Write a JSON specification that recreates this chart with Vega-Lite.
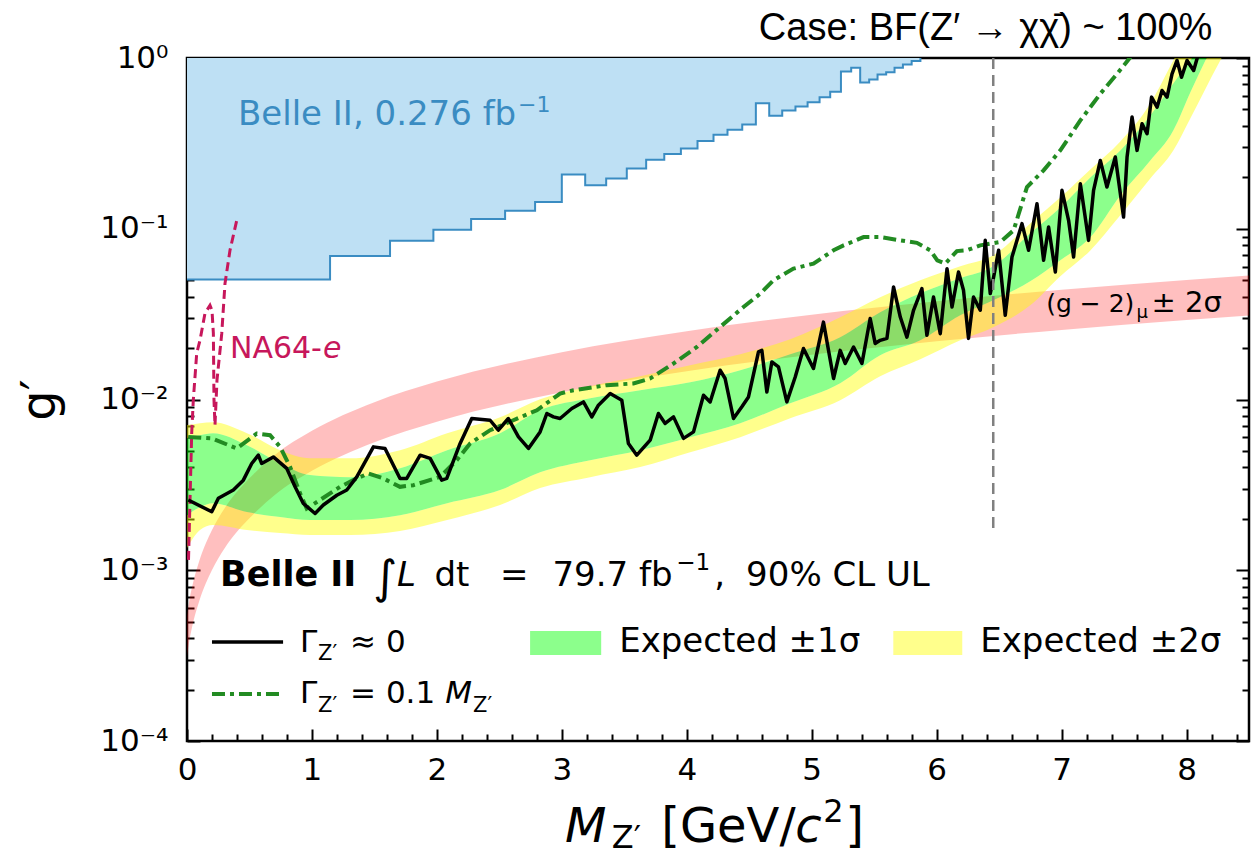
{
  "$schema": "https://vega.github.io/schema/vega-lite/v6.json",
  "width": 1062,
  "height": 683,
  "autosize": {"type": "none"},
  "padding": {"left": 187, "top": 58, "right": 6, "bottom": 115},
  "background": "white",
  "config": {
    "font": "DejaVu Sans",
    "view": {"stroke": "#000000", "strokeWidth": 2.5},
    "axis": {"domain": false, "grid": false, "tickColor": "#000000", "tickWidth": 2, "labelColor": "#000000", "labelFont": "DejaVu Sans", "labelFontSize": 31, "labelFlush": false, "labelOverlap": false, "labelBound": false, "zindex": 1}
  },
  "datasets": {
    "belle276": [
      {"m": 0, "g": 0.0504}, {"m": 1.145, "g": 0.0692}, {"m": 1.625, "g": 0.0852}, {"m": 1.972, "g": 0.0988},
      {"m": 2.274, "g": 0.114}, {"m": 2.546, "g": 0.1276}, {"m": 2.786, "g": 0.1433}, {"m": 3.0, "g": 0.208},
      {"m": 3.187, "g": 0.1795}, {"m": 3.355, "g": 0.197}, {"m": 3.52, "g": 0.2256}, {"m": 3.675, "g": 0.2537},
      {"m": 3.82, "g": 0.2736}, {"m": 3.953, "g": 0.2953}, {"m": 4.086, "g": 0.326}, {"m": 4.214, "g": 0.355},
      {"m": 4.326, "g": 0.38}, {"m": 4.444, "g": 0.408}, {"m": 4.553, "g": 0.544}, {"m": 4.66, "g": 0.459},
      {"m": 4.764, "g": 0.493}, {"m": 4.87, "g": 0.52}, {"m": 4.967, "g": 0.551}, {"m": 5.063, "g": 0.59},
      {"m": 5.148, "g": 0.634}, {"m": 5.234, "g": 0.834}, {"m": 5.316, "g": 0.877}, {"m": 5.388, "g": 0.719},
      {"m": 5.46, "g": 0.748}, {"m": 5.527, "g": 0.8}, {"m": 5.596, "g": 0.826}, {"m": 5.663, "g": 0.877},
      {"m": 5.73, "g": 0.916}, {"m": 5.8, "g": 0.96}, {"m": 5.87, "g": 1.0}
    ],
    "bands": [
      {"m": 0.0, "y2hi": 0.00708, "y1hi": 0.00594, "y1lo": 0.0021, "y2lo": 0.00135},
      {"m": 0.104, "y2hi": 0.00727, "y1hi": 0.00618, "y1lo": 0.00234, "y2lo": 0.00172},
      {"m": 0.208, "y2hi": 0.00736, "y1hi": 0.00635, "y1lo": 0.00247, "y2lo": 0.00184},
      {"m": 0.48, "y2hi": 0.00635, "y1hi": 0.0054, "y1lo": 0.00219, "y2lo": 0.00172},
      {"m": 0.745, "y2hi": 0.00505, "y1hi": 0.00424, "y1lo": 0.00205, "y2lo": 0.00165},
      {"m": 0.985, "y2hi": 0.00453, "y1hi": 0.00361, "y1lo": 0.00197, "y2lo": 0.00161},
      {"m": 1.305, "y2hi": 0.00453, "y1hi": 0.00351, "y1lo": 0.00197, "y2lo": 0.00161},
      {"m": 1.705, "y2hi": 0.00505, "y1hi": 0.00396, "y1lo": 0.0021, "y2lo": 0.0017},
      {"m": 2.082, "y2hi": 0.00635, "y1hi": 0.00505, "y1lo": 0.00247, "y2lo": 0.00197},
      {"m": 2.506, "y2hi": 0.00788, "y1hi": 0.00635, "y1lo": 0.00295, "y2lo": 0.00241},
      {"m": 2.826, "y2hi": 0.01004, "y1hi": 0.00866, "y1lo": 0.00375, "y2lo": 0.00303},
      {"m": 3.227, "y2hi": 0.01196, "y1hi": 0.01018, "y1lo": 0.00441, "y2lo": 0.00351},
      {"m": 3.627, "y2hi": 0.01368, "y1hi": 0.01133, "y1lo": 0.00505, "y2lo": 0.00402},
      {"m": 4.027, "y2hi": 0.01588, "y1hi": 0.01262, "y1lo": 0.00602, "y2lo": 0.00491},
      {"m": 4.428, "y2hi": 0.01841, "y1hi": 0.01484, "y1lo": 0.00727, "y2lo": 0.00602},
      {"m": 4.828, "y2hi": 0.02254, "y1hi": 0.01841, "y1lo": 0.00951, "y2lo": 0.00777},
      {"m": 5.228, "y2hi": 0.0303, "y1hi": 0.02314, "y1lo": 0.01246, "y2lo": 0.00991},
      {"m": 5.548, "y2hi": 0.0397, "y1hi": 0.0324, "y1lo": 0.01816, "y2lo": 0.01368},
      {"m": 5.869, "y2hi": 0.0499, "y1hi": 0.0419, "y1lo": 0.0222, "y2lo": 0.0172},
      {"m": 6.189, "y2hi": 0.0603, "y1hi": 0.0513, "y1lo": 0.0311, "y2lo": 0.0222},
      {"m": 6.453, "y2hi": 0.0699, "y1hi": 0.0603, "y1lo": 0.0381, "y2lo": 0.0265},
      {"m": 6.749, "y2hi": 0.1075, "y1hi": 0.094, "y1lo": 0.0492, "y2lo": 0.0356},
      {"m": 6.99, "y2hi": 0.1527, "y1hi": 0.1334, "y1lo": 0.0653, "y2lo": 0.0527},
      {"m": 7.23, "y2hi": 0.2227, "y1hi": 0.1999, "y1lo": 0.0891, "y2lo": 0.0747},
      {"m": 7.47, "y2hi": 0.3246, "y1hi": 0.2875, "y1lo": 0.1568, "y2lo": 0.1198},
      {"m": 7.71, "y2hi": 0.5417, "y1hi": 0.4608, "y1lo": 0.2513, "y2lo": 0.1972},
      {"m": 7.894, "y2hi": 0.967, "y1hi": 0.709, "y1lo": 0.3765, "y2lo": 0.2875},
      {"m": 8.03, "y2hi": 1.468, "y1hi": 0.967, "y1lo": 0.6283, "y2lo": 0.4426},
      {"m": 8.27, "y2hi": 3.04, "y1hi": 1.57, "y1lo": 1.468, "y2lo": 0.967},
      {"m": 8.51, "y2hi": 6.38, "y1hi": 2.69, "y1lo": 3.43, "y2lo": 1.948}
    ]
  },
  "resolve": {"axis": {"x": "independent", "y": "independent"}},
  "layer": [
    {
      "data": {"name": "belle276"},
      "mark": {"type": "area", "interpolate": "step-after", "color": "#bee0f4", "clip": true},
      "encoding": {
        "x": {"field": "m", "type": "quantitative", "scale": {"domain": [0, 8.5], "nice": false, "zero": false},
          "axis": {"orient": "bottom", "values": [0,0.2,0.4,0.6,0.8,1,1.2,1.4,1.6,1.8,2,2.2,2.4,2.6,2.8,3,3.2,3.4,3.6,3.8,4,4.2,4.4,4.6,4.8,5,5.2,5.4,5.6,5.8,6,6.2,6.4,6.6,6.8,7,7.2,7.4,7.6,7.8,8,8.2,8.4],
            "labelExpr": "datum.value === round(datum.value) ? '' + datum.value : ''",
            "tickSize": {"condition": {"test": "datum.value === round(datum.value)", "value": -12}, "value": -7},
            "labelPadding": 26, "title": null}},
        "y": {"field": "g", "type": "quantitative", "scale": {"type": "log", "domain": [0.0001, 1], "nice": false},
          "axis": {"orient": "left", "values": [0.0001,0.0002,0.0003,0.0004,0.0005,0.0006,0.0007,0.0008,0.0009,0.001,0.002,0.003,0.004,0.005,0.006,0.007,0.008,0.009,0.01,0.02,0.03,0.04,0.05,0.06,0.07,0.08,0.09,0.1,0.2,0.3,0.4,0.5,0.6,0.7,0.8,0.9,1],
            "labelExpr": "datum.value === 1 ? '10⁰' : datum.value === 0.1 ? '10⁻¹' : datum.value === 0.01 ? '10⁻²' : datum.value === 0.001 ? '10⁻³' : datum.value === 0.0001 ? '10⁻⁴' : ''",
            "tickSize": {"condition": {"test": "datum.value === 1 || datum.value === 0.1 || datum.value === 0.01 || datum.value === 0.001 || datum.value === 0.0001", "value": -13}, "value": -7},
            "labelPadding": 32, "title": "g′", "titleFontSize": 48, "titleFont": "DejaVu Sans", "titleFontWeight": "normal", "titleColor": "#000000", "titlePadding": 35}},
        "y2": {"datum": 1}
      }
    },
    {
      "data": {"name": "belle276"},
      "mark": {"type": "line", "interpolate": "step-after", "color": "#3a8cc2", "strokeWidth": 2, "clip": true},
      "encoding": {
        "x": {"field": "m", "type": "quantitative", "axis": null},
        "y": {"field": "g", "type": "quantitative", "axis": null}
      }
    },
    {
      "data": {"values": [
        {"m": 0, "lo": 0.000315, "hi": 0.00054}, {"m": 0.02, "lo": 0.000392, "hi": 0.000673},
        {"m": 0.05, "lo": 0.000498, "hi": 0.000854}, {"m": 0.1, "lo": 0.000667, "hi": 0.001145},
        {"m": 0.2, "lo": 0.001003, "hi": 0.001721}, {"m": 0.3, "lo": 0.001341, "hi": 0.002302},
        {"m": 0.4, "lo": 0.00168, "hi": 0.00288}, {"m": 0.53, "lo": 0.00212, "hi": 0.00364},
        {"m": 0.7, "lo": 0.00275, "hi": 0.00472}, {"m": 1.0, "lo": 0.00382, "hi": 0.00656},
        {"m": 1.5, "lo": 0.00562, "hi": 0.00964}, {"m": 2.0, "lo": 0.00742, "hi": 0.01273},
        {"m": 3.0, "lo": 0.01104, "hi": 0.01894}, {"m": 4.0, "lo": 0.01465, "hi": 0.02514},
        {"m": 5.0, "lo": 0.01829, "hi": 0.03139}, {"m": 6.0, "lo": 0.02193, "hi": 0.03764},
        {"m": 7.0, "lo": 0.02556, "hi": 0.04387}, {"m": 8.0, "lo": 0.02921, "hi": 0.05012},
        {"m": 8.5, "lo": 0.03102, "hi": 0.05324}
      ]},
      "mark": {"type": "area", "interpolate": "monotone", "color": "#ff0000", "opacity": 0.25, "clip": true},
      "encoding": {
        "x": {"field": "m", "type": "quantitative", "axis": null},
        "y": {"field": "lo", "type": "quantitative",
          "axis": {"orient": "right", "labels": false, "title": null, "values": [0.0001,0.0002,0.0003,0.0004,0.0005,0.0006,0.0007,0.0008,0.0009,0.001,0.002,0.003,0.004,0.005,0.006,0.007,0.008,0.009,0.01,0.02,0.03,0.04,0.05,0.06,0.07,0.08,0.09,0.1,0.2,0.3,0.4,0.5,0.6,0.7,0.8,0.9,1],
            "tickSize": {"condition": {"test": "datum.value === 1 || datum.value === 0.1 || datum.value === 0.01 || datum.value === 0.001 || datum.value === 0.0001", "value": -13}, "value": -7}}},
        "y2": {"field": "hi"}
      }
    },
    {
      "data": {"name": "bands"},
      "mark": {"type": "area", "interpolate": "monotone", "color": "#ffff00", "opacity": 0.45, "clip": true},
      "encoding": {
        "x": {"field": "m", "type": "quantitative", "axis": null},
        "y": {"field": "y1hi", "type": "quantitative", "axis": null},
        "y2": {"field": "y2hi"}
      }
    },
    {
      "data": {"name": "bands"},
      "mark": {"type": "area", "interpolate": "monotone", "color": "#ffff00", "opacity": 0.45, "clip": true},
      "encoding": {
        "x": {"field": "m", "type": "quantitative", "axis": null},
        "y": {"field": "y2lo", "type": "quantitative", "axis": null},
        "y2": {"field": "y1lo"}
      }
    },
    {
      "data": {"name": "bands"},
      "mark": {"type": "area", "interpolate": "monotone", "color": "#00ff00", "opacity": 0.45, "clip": true},
      "encoding": {
        "x": {"field": "m", "type": "quantitative", "axis": null},
        "y": {"field": "y1lo", "type": "quantitative", "axis": null},
        "y2": {"field": "y1hi"}
      }
    },
    {
      "data": {"values": [
        {"i": 1, "m": 0.012, "g": 0.00115}, {"i": 2, "m": 0.024, "g": 0.00258}, {"i": 3, "m": 0.0376, "g": 0.00635},
        {"i": 4, "m": 0.0504, "g": 0.00991}, {"i": 5, "m": 0.0777, "g": 0.01866}, {"i": 6, "m": 0.104, "g": 0.0222},
        {"i": 7, "m": 0.144, "g": 0.032}, {"i": 8, "m": 0.184, "g": 0.0356}, {"i": 9, "m": 0.2, "g": 0.0333},
        {"i": 10, "m": 0.211, "g": 0.0244}, {"i": 11, "m": 0.216, "g": 0.00991}, {"i": 12, "m": 0.224, "g": 0.00707},
        {"i": 13, "m": 0.24, "g": 0.01297}, {"i": 14, "m": 0.278, "g": 0.0243}, {"i": 15, "m": 0.304, "g": 0.0477},
        {"i": 16, "m": 0.344, "g": 0.0747}, {"i": 17, "m": 0.398, "g": 0.1119}
      ]},
      "mark": {"type": "line", "color": "#c7175b", "strokeWidth": 3, "strokeDash": [9, 5], "clip": true},
      "encoding": {
        "x": {"field": "m", "type": "quantitative", "axis": null},
        "y": {"field": "g", "type": "quantitative", "axis": null},
        "order": {"field": "i", "type": "quantitative"}
      }
    },
    {
      "data": {"values": [
        {"m": 0.01, "g": 0.00604}, {"m": 0.198, "g": 0.00592}, {"m": 0.398, "g": 0.00517}, {"m": 0.558, "g": 0.00632},
        {"m": 0.665, "g": 0.00618}, {"m": 0.745, "g": 0.00528}, {"m": 0.825, "g": 0.00403}, {"m": 0.905, "g": 0.00282},
        {"m": 0.958, "g": 0.0023}, {"m": 1.065, "g": 0.00258}, {"m": 1.225, "g": 0.00308}, {"m": 1.331, "g": 0.00337},
        {"m": 1.452, "g": 0.00369}, {"m": 1.572, "g": 0.00345}, {"m": 1.705, "g": 0.00308}, {"m": 1.812, "g": 0.00315},
        {"m": 2.026, "g": 0.00352}, {"m": 2.159, "g": 0.00441}, {"m": 2.266, "g": 0.00553}, {"m": 2.426, "g": 0.00661},
        {"m": 2.612, "g": 0.00756}, {"m": 2.8, "g": 0.00865}, {"m": 2.986, "g": 0.01084}, {"m": 3.093, "g": 0.01133},
        {"m": 3.36, "g": 0.01213}, {"m": 3.573, "g": 0.01241}, {"m": 3.707, "g": 0.01327}, {"m": 3.894, "g": 0.01625},
        {"m": 4.081, "g": 0.0203}, {"m": 4.267, "g": 0.0266}, {"m": 4.454, "g": 0.0348}, {"m": 4.588, "g": 0.0417},
        {"m": 4.694, "g": 0.0499}, {"m": 4.854, "g": 0.0584}, {"m": 5.014, "g": 0.0625}, {"m": 5.175, "g": 0.0748},
        {"m": 5.255, "g": 0.0799}, {"m": 5.415, "g": 0.0894}, {"m": 5.548, "g": 0.0894}, {"m": 5.709, "g": 0.0855},
        {"m": 5.842, "g": 0.0827}, {"m": 5.949, "g": 0.0748}, {"m": 6.005, "g": 0.0653}, {"m": 6.069, "g": 0.0625},
        {"m": 6.162, "g": 0.074}, {"m": 6.242, "g": 0.0748}, {"m": 6.349, "g": 0.0799}, {"m": 6.509, "g": 0.0836},
        {"m": 6.616, "g": 0.0979}, {"m": 6.723, "g": 0.1754}, {"m": 6.856, "g": 0.2198}, {"m": 6.99, "g": 0.2877},
        {"m": 7.15, "g": 0.431}, {"m": 7.31, "g": 0.617}, {"m": 7.444, "g": 0.808}, {"m": 7.55, "g": 1.01},
        {"m": 7.71, "g": 1.45}
      ]},
      "mark": {"type": "line", "color": "#228b22", "strokeWidth": 4, "strokeDash": [13, 5, 4, 5], "clip": true},
      "encoding": {
        "x": {"field": "m", "type": "quantitative", "axis": null},
        "y": {"field": "g", "type": "quantitative", "axis": null}
      }
    },
    {
      "data": {"values": [
        {"m": 0.01, "g": 0.00258}, {"m": 0.198, "g": 0.0022}, {"m": 0.251, "g": 0.00264}, {"m": 0.371, "g": 0.00295},
        {"m": 0.451, "g": 0.00337}, {"m": 0.518, "g": 0.00422}, {"m": 0.571, "g": 0.00472}, {"m": 0.598, "g": 0.00422},
        {"m": 0.691, "g": 0.00461}, {"m": 0.798, "g": 0.00395}, {"m": 0.865, "g": 0.00308}, {"m": 0.931, "g": 0.00246},
        {"m": 1.025, "g": 0.00215}, {"m": 1.091, "g": 0.00241}, {"m": 1.199, "g": 0.00275}, {"m": 1.279, "g": 0.00295},
        {"m": 1.359, "g": 0.00352}, {"m": 1.492, "g": 0.00528}, {"m": 1.585, "g": 0.00517}, {"m": 1.705, "g": 0.00345},
        {"m": 1.759, "g": 0.00345}, {"m": 1.866, "g": 0.00472}, {"m": 1.946, "g": 0.00452}, {"m": 2.039, "g": 0.00337},
        {"m": 2.079, "g": 0.00345}, {"m": 2.186, "g": 0.00553}, {"m": 2.279, "g": 0.00774}, {"m": 2.426, "g": 0.00756},
        {"m": 2.492, "g": 0.00661}, {"m": 2.572, "g": 0.00774}, {"m": 2.653, "g": 0.00604}, {"m": 2.733, "g": 0.00517},
        {"m": 2.826, "g": 0.00646}, {"m": 2.88, "g": 0.00828}, {"m": 2.933, "g": 0.00791}, {"m": 2.986, "g": 0.00774},
        {"m": 3.08, "g": 0.00886}, {"m": 3.173, "g": 0.00968}, {"m": 3.24, "g": 0.00791}, {"m": 3.293, "g": 0.00926},
        {"m": 3.387, "g": 0.01084}, {"m": 3.48, "g": 0.00991}, {"m": 3.533, "g": 0.00553}, {"m": 3.6, "g": 0.00472},
        {"m": 3.707, "g": 0.00578}, {"m": 3.773, "g": 0.00828}, {"m": 3.827, "g": 0.00724}, {"m": 3.894, "g": 0.00791},
        {"m": 3.974, "g": 0.00592}, {"m": 4.054, "g": 0.00646}, {"m": 4.134, "g": 0.0106}, {"m": 4.187, "g": 0.00968},
        {"m": 4.267, "g": 0.01483}, {"m": 4.307, "g": 0.01327}, {"m": 4.374, "g": 0.00774}, {"m": 4.441, "g": 0.00906},
        {"m": 4.494, "g": 0.01035}, {"m": 4.574, "g": 0.019}, {"m": 4.601, "g": 0.0194}, {"m": 4.641, "g": 0.01107},
        {"m": 4.681, "g": 0.0166}, {"m": 4.734, "g": 0.01552}, {"m": 4.801, "g": 0.00968}, {"m": 4.868, "g": 0.01355},
        {"m": 4.934, "g": 0.0199}, {"m": 5.014, "g": 0.01518}, {"m": 5.094, "g": 0.0284}, {"m": 5.175, "g": 0.01327},
        {"m": 5.228, "g": 0.0194}, {"m": 5.268, "g": 0.01625}, {"m": 5.335, "g": 0.0203}, {"m": 5.402, "g": 0.01625},
        {"m": 5.468, "g": 0.0298}, {"m": 5.508, "g": 0.0213}, {"m": 5.548, "g": 0.0222}, {"m": 5.602, "g": 0.0228},
        {"m": 5.655, "g": 0.0456}, {"m": 5.709, "g": 0.0304}, {"m": 5.762, "g": 0.0232}, {"m": 5.815, "g": 0.0333},
        {"m": 5.882, "g": 0.0446}, {"m": 5.922, "g": 0.0238}, {"m": 5.975, "g": 0.0398}, {"m": 6.029, "g": 0.0243},
        {"m": 6.083, "g": 0.0584}, {"m": 6.123, "g": 0.0348}, {"m": 6.175, "g": 0.0558}, {"m": 6.215, "g": 0.0436},
        {"m": 6.255, "g": 0.0228}, {"m": 6.295, "g": 0.0398}, {"m": 6.349, "g": 0.0333}, {"m": 6.389, "g": 0.0855},
        {"m": 6.429, "g": 0.0417}, {"m": 6.456, "g": 0.0521}, {"m": 6.496, "g": 0.0748}, {"m": 6.549, "g": 0.0311},
        {"m": 6.603, "g": 0.0683}, {"m": 6.683, "g": 0.1071}, {"m": 6.736, "g": 0.0748}, {"m": 6.803, "g": 0.1402},
        {"m": 6.856, "g": 0.0653}, {"m": 6.896, "g": 0.1023}, {"m": 6.95, "g": 0.0558}, {"m": 7.003, "g": 0.1678},
        {"m": 7.056, "g": 0.112}, {"m": 7.096, "g": 0.0683}, {"m": 7.15, "g": 0.1836}, {"m": 7.216, "g": 0.0855},
        {"m": 7.256, "g": 0.1678}, {"m": 7.31, "g": 0.2512}, {"m": 7.363, "g": 0.1754}, {"m": 7.43, "g": 0.263},
        {"m": 7.496, "g": 0.1171}, {"m": 7.524, "g": 0.263}, {"m": 7.564, "g": 0.451}, {"m": 7.604, "g": 0.2877},
        {"m": 7.644, "g": 0.412}, {"m": 7.684, "g": 0.36}, {"m": 7.72, "g": 0.59}, {"m": 7.764, "g": 0.515},
        {"m": 7.804, "g": 0.645}, {"m": 7.844, "g": 0.59}, {"m": 7.884, "g": 0.808}, {"m": 7.924, "g": 0.967},
        {"m": 7.96, "g": 0.772}, {"m": 8.004, "g": 0.967}, {"m": 8.057, "g": 0.845}, {"m": 8.084, "g": 0.99},
        {"m": 8.11, "g": 1.18}
      ]},
      "mark": {"type": "line", "color": "#000000", "strokeWidth": 3.5, "strokeJoin": "round", "clip": true},
      "encoding": {
        "x": {"field": "m", "type": "quantitative", "axis": null},
        "y": {"field": "g", "type": "quantitative", "axis": null}
      }
    },
    {
      "data": {"values": [{"m": 6.453, "lo": 0.00177, "hi": 1}]},
      "mark": {"type": "rule", "color": "#808080", "strokeWidth": 2.5, "strokeDash": [11, 6]},
      "encoding": {
        "x": {"field": "m", "type": "quantitative", "axis": null},
        "y": {"field": "lo", "type": "quantitative", "axis": null},
        "y2": {"field": "hi"}
      }
    },
    {
      "data": {"values": [{"m": 0.2, "m2": 0.769, "g": 0.00038}]},
      "mark": {"type": "rule", "color": "#000000", "strokeWidth": 3.5},
      "encoding": {
        "x": {"field": "m", "type": "quantitative", "axis": null},
        "x2": {"field": "m2"},
        "y": {"field": "g", "type": "quantitative", "axis": null}
      }
    },
    {
      "data": {"values": [{"m": 0.2, "m2": 0.769, "g": 0.0001886}]},
      "mark": {"type": "rule", "color": "#228b22", "strokeWidth": 4, "strokeDash": [13, 5, 4, 5]},
      "encoding": {
        "x": {"field": "m", "type": "quantitative", "axis": null},
        "x2": {"field": "m2"},
        "y": {"field": "g", "type": "quantitative", "axis": null}
      }
    },
    {
      "data": {"values": [{"m": 2.746, "m2": 3.315, "lo": 0.000319, "hi": 0.000441}]},
      "mark": {"type": "rect", "color": "#00ff00", "opacity": 0.45},
      "encoding": {
        "x": {"field": "m", "type": "quantitative", "axis": null},
        "x2": {"field": "m2"},
        "y": {"field": "lo", "type": "quantitative", "axis": null},
        "y2": {"field": "hi"}
      }
    },
    {
      "data": {"values": [{"m": 5.653, "m2": 6.205, "lo": 0.000319, "hi": 0.000441}]},
      "mark": {"type": "rect", "color": "#ffff00", "opacity": 0.45},
      "encoding": {
        "x": {"field": "m", "type": "quantitative", "axis": null},
        "x2": {"field": "m2"},
        "y": {"field": "lo", "type": "quantitative", "axis": null},
        "y2": {"field": "hi"}
      }
    },
    {
      "data": {"values": [{"m": 0.408, "g": 0.4027, "t": "Belle II, 0.276 fb"}]},
      "mark": {"type": "text", "color": "#3a8cc2", "fontSize": 34, "font": "DejaVu Sans", "align": "left", "baseline": "alphabetic"},
      "encoding": {
        "x": {"field": "m", "type": "quantitative", "axis": null},
        "y": {"field": "g", "type": "quantitative", "axis": null},
        "text": {"field": "t"}
      }
    },
    {
      "data": {"values": [{"m": 2.65, "g": 0.48, "t": "−1"}]},
      "mark": {"type": "text", "color": "#3a8cc2", "fontSize": 22, "font": "DejaVu Sans", "align": "left", "baseline": "alphabetic"},
      "encoding": {
        "x": {"field": "m", "type": "quantitative", "axis": null},
        "y": {"field": "g", "type": "quantitative", "axis": null},
        "text": {"field": "t"}
      }
    },
    {
      "data": {"values": [{"m": 0.344, "g": 0.01745, "t": "NA64-"}]},
      "mark": {"type": "text", "color": "#c7175b", "fontSize": 30, "font": "DejaVu Sans", "align": "left", "baseline": "alphabetic"},
      "encoding": {
        "x": {"field": "m", "type": "quantitative", "axis": null},
        "y": {"field": "g", "type": "quantitative", "axis": null},
        "text": {"field": "t"}
      }
    },
    {
      "data": {"values": [{"m": 1.089, "g": 0.01745, "t": "e"}]},
      "mark": {"type": "text", "color": "#c7175b", "fontSize": 30, "font": "DejaVu Sans", "fontStyle": "italic", "align": "left", "baseline": "alphabetic"},
      "encoding": {
        "x": {"field": "m", "type": "quantitative", "axis": null},
        "y": {"field": "g", "type": "quantitative", "axis": null},
        "text": {"field": "t"}
      }
    },
    {
      "data": {"values": [{"m": 6.877, "g": 0.03242, "t": "(g − 2)"}]},
      "mark": {"type": "text", "color": "#000000", "fontSize": 25, "font": "DejaVu Sans", "align": "left", "baseline": "alphabetic"},
      "encoding": {
        "x": {"field": "m", "type": "quantitative", "axis": null},
        "y": {"field": "g", "type": "quantitative", "axis": null},
        "text": {"field": "t"}
      }
    },
    {
      "data": {"values": [{"m": 7.72, "g": 0.03242, "t": "± 2σ"}]},
      "mark": {"type": "text", "color": "#000000", "fontSize": 29, "font": "DejaVu Sans", "align": "left", "baseline": "alphabetic"},
      "encoding": {
        "x": {"field": "m", "type": "quantitative", "axis": null},
        "y": {"field": "g", "type": "quantitative", "axis": null},
        "text": {"field": "t"}
      }
    },
    {
      "data": {"values": [{"m": 7.6, "g": 0.0299, "t": "μ"}]},
      "mark": {"type": "text", "color": "#000000", "fontSize": 18, "font": "DejaVu Sans", "align": "left", "baseline": "alphabetic"},
      "encoding": {
        "x": {"field": "m", "type": "quantitative", "axis": null},
        "y": {"field": "g", "type": "quantitative", "axis": null},
        "text": {"field": "t"}
      }
    },
    {
      "data": {"values": [{"m": 0.264, "g": 0.000808, "t": "Belle II"}]},
      "mark": {"type": "text", "color": "#000000", "fontSize": 35, "font": "DejaVu Sans", "fontWeight": "bold", "align": "left", "baseline": "alphabetic"},
      "encoding": {
        "x": {"field": "m", "type": "quantitative", "axis": null},
        "y": {"field": "g", "type": "quantitative", "axis": null},
        "text": {"field": "t"}
      }
    },
    {
      "data": {"values": [{"m": 1.49, "g": 0.00074, "t": "∫"}]},
      "mark": {"type": "text", "color": "#000000", "fontSize": 46, "font": "DejaVu Sans", "align": "left", "baseline": "alphabetic"},
      "encoding": {
        "x": {"field": "m", "type": "quantitative", "axis": null},
        "y": {"field": "g", "type": "quantitative", "axis": null},
        "text": {"field": "t"}
      }
    },
    {
      "data": {"values": [{"m": 1.68, "g": 0.000808, "t": "L"}]},
      "mark": {"type": "text", "color": "#000000", "fontSize": 34, "font": "DejaVu Sans", "fontStyle": "italic", "align": "left", "baseline": "alphabetic"},
      "encoding": {
        "x": {"field": "m", "type": "quantitative", "axis": null},
        "y": {"field": "g", "type": "quantitative", "axis": null},
        "text": {"field": "t"}
      }
    },
    {
      "data": {"values": [
        {"m": 1.98, "g": 0.000808, "t": "dt"},
        {"m": 2.506, "g": 0.000808, "t": "="},
        {"m": 2.925, "g": 0.000808, "t": "79.7 fb"},
        {"m": 4.22, "g": 0.000808, "t": ","},
        {"m": 4.475, "g": 0.000808, "t": "90% CL UL"},
        {"m": 3.459, "g": 0.000332, "t": "Expected ±1σ"},
        {"m": 6.349, "g": 0.000332, "t": "Expected ±2σ"}
      ]},
      "mark": {"type": "text", "color": "#000000", "fontSize": 34, "font": "DejaVu Sans", "align": "left", "baseline": "alphabetic"},
      "encoding": {
        "x": {"field": "m", "type": "quantitative", "axis": null},
        "y": {"field": "g", "type": "quantitative", "axis": null},
        "text": {"field": "t"}
      }
    },
    {
      "data": {"values": [{"m": 3.915, "g": 0.00101, "t": "−1"}]},
      "mark": {"type": "text", "color": "#000000", "fontSize": 23, "font": "DejaVu Sans", "align": "left", "baseline": "alphabetic"},
      "encoding": {
        "x": {"field": "m", "type": "quantitative", "axis": null},
        "y": {"field": "g", "type": "quantitative", "axis": null},
        "text": {"field": "t"}
      }
    },
    {
      "data": {"values": [
        {"m": 0.905, "g": 0.000332, "t": "Γ"},
        {"m": 1.305, "g": 0.000332, "t": "≈ 0"},
        {"m": 0.905, "g": 0.0001671, "t": "Γ"},
        {"m": 1.305, "g": 0.0001671, "t": "= 0.1"}
      ]},
      "mark": {"type": "text", "color": "#000000", "fontSize": 31, "font": "DejaVu Sans", "align": "left", "baseline": "alphabetic"},
      "encoding": {
        "x": {"field": "m", "type": "quantitative", "axis": null},
        "y": {"field": "g", "type": "quantitative", "axis": null},
        "text": {"field": "t"}
      }
    },
    {
      "data": {"values": [{"m": 2.066, "g": 0.0001671, "t": "M"}]},
      "mark": {"type": "text", "color": "#000000", "fontSize": 31, "font": "DejaVu Sans", "fontStyle": "italic", "align": "left", "baseline": "alphabetic"},
      "encoding": {
        "x": {"field": "m", "type": "quantitative", "axis": null},
        "y": {"field": "g", "type": "quantitative", "axis": null},
        "text": {"field": "t"}
      }
    },
    {
      "data": {"values": [
        {"m": 1.049, "g": 0.000298, "t": "Z′"},
        {"m": 1.049, "g": 0.000148, "t": "Z′"},
        {"m": 2.29, "g": 0.000148, "t": "Z′"}
      ]},
      "mark": {"type": "text", "color": "#000000", "fontSize": 21, "font": "DejaVu Sans", "align": "left", "baseline": "alphabetic"},
      "encoding": {
        "x": {"field": "m", "type": "quantitative", "axis": null},
        "y": {"field": "g", "type": "quantitative", "axis": null},
        "text": {"field": "t"}
      }
    },
    {
      "data": {"values": [{"m": 3.026, "g": 0.0000257, "t": "M"}, {"m": 4.868, "g": 0.0000257, "t": "c"}]},
      "mark": {"type": "text", "color": "#000000", "fontSize": 48, "font": "DejaVu Sans", "fontStyle": "italic", "align": "left", "baseline": "alphabetic"},
      "encoding": {
        "x": {"field": "m", "type": "quantitative", "axis": null},
        "y": {"field": "g", "type": "quantitative", "axis": null},
        "text": {"field": "t"}
      }
    },
    {
      "data": {"values": [{"m": 3.795, "g": 0.0000257, "t": "[GeV/"}, {"m": 5.268, "g": 0.0000257, "t": "]"}]},
      "mark": {"type": "text", "color": "#000000", "fontSize": 48, "font": "DejaVu Sans", "align": "left", "baseline": "alphabetic"},
      "encoding": {
        "x": {"field": "m", "type": "quantitative", "axis": null},
        "y": {"field": "g", "type": "quantitative", "axis": null},
        "text": {"field": "t"}
      }
    },
    {
      "data": {"values": [{"m": 3.40, "g": 0.00002368, "t": "Z′"}, {"m": 5.092, "g": 0.0000336, "t": "2"}]},
      "mark": {"type": "text", "color": "#000000", "fontSize": 32, "font": "DejaVu Sans", "align": "left", "baseline": "alphabetic"},
      "encoding": {
        "x": {"field": "m", "type": "quantitative", "axis": null},
        "y": {"field": "g", "type": "quantitative", "axis": null},
        "text": {"field": "t"}
      }
    },
    {
      "data": {"values": [{"m": 8.207, "g": 1.283, "t": "Case: BF(Z′ → χχ̄) ~ 100%"}]},
      "mark": {"type": "text", "color": "#000000", "fontSize": 38, "font": "Liberation Sans", "align": "right", "baseline": "alphabetic"},
      "encoding": {
        "x": {"field": "m", "type": "quantitative", "axis": null},
        "y": {"field": "g", "type": "quantitative", "axis": null},
        "text": {"field": "t"}
      }
    }
  ]
}
